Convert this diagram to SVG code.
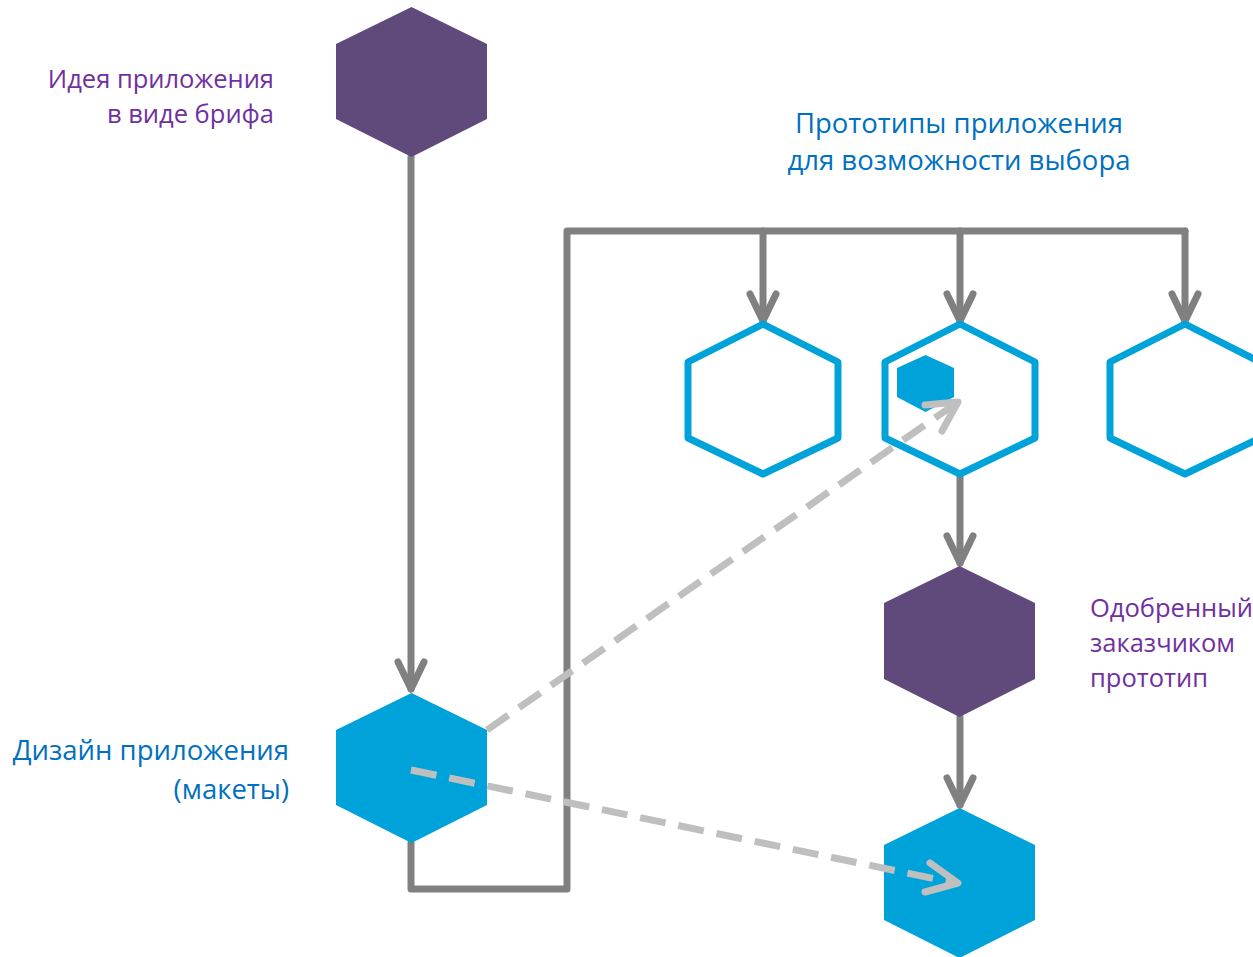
<svg xmlns="http://www.w3.org/2000/svg" width="1253" height="957" viewBox="0 0 1253 957">
<defs>
<style>
.purple{fill:#604a7b}
.blue{fill:#00a3d9}
.outline{fill:#fff;stroke:#00a3d9;stroke-width:7;stroke-linejoin:round}
.conn{fill:none;stroke:#808080;stroke-width:7;stroke-linecap:round;stroke-linejoin:round}
.dash{fill:none;stroke:#bfbfbf;stroke-width:7;stroke-dasharray:26 13}
.head{fill:none;stroke-linecap:round;stroke-linejoin:round;stroke-width:7}
.t{font-family:"Open Sans","Noto Sans",sans-serif}
.tp{fill:#7030a0;font-size:25.5px}
.tb{fill:#0070c0;font-size:27.5px}
</style>
</defs>
<g id="connectors">
<path class="conn" d="M411,157 V689"/>
<path class="conn" d="M398,662 L411,689 L424,662"/>
<path class="conn" d="M411,843 V889 H567 V231 H1185"/>
<path class="conn" d="M763,231 V321"/>
<path class="conn" d="M750,294 L763,321 L776,294"/>
<path class="conn" d="M960,231 V321"/>
<path class="conn" d="M947,294 L960,321 L973,294"/>
<path class="conn" d="M1185,231 V321"/>
<path class="conn" d="M1172,294 L1185,321 L1198,294"/>
<path class="conn" d="M960,476 V563"/>
<path class="conn" d="M947,536 L960,563 L973,536"/>
<path class="conn" d="M960,717 V805"/>
<path class="conn" d="M947,778 L960,805 L973,778"/>
</g>
<g id="n1"><polygon class="purple" points="411.5,7 487,44 487,119 411.5,157 336,119 336,44"/></g>
<g id="n2"><polygon class="blue" points="411.5,693 487,730 487,805 411.5,843 336,805 336,730"/></g>
<g id="p1"><polygon class="outline" points="763,324 838,362 838,438 763,474 688,438 688,362"/></g>
<g id="p2"><polygon class="outline" points="960,324 1035,362 1035,438 960,474 885,438 885,362"/>
<polygon class="blue" points="925.5,355 954,368 954,397 925.5,412 897,397 897,368"/></g>
<g id="p3"><polygon class="outline" points="1185,324 1260,362 1260,438 1185,474 1110,438 1110,362"/></g>
<g id="n3"><polygon class="purple" points="959.5,566 1035,603 1035,679 959.5,717 884,679 884,603"/></g>
<g id="n4"><polygon class="blue" points="959.5,808 1035,845 1035,920 959.5,958 884,920 884,845"/></g>
<g id="dashed">
<path class="dash" d="M487,730 L955,404"/>
<path class="head" stroke="#bfbfbf" d="M925,405 L958,402 L942,431"/>
<path class="dash" d="M411,770 L955,883"/>
<path class="head" stroke="#bfbfbf" d="M930,863 L958,883 L925,892"/>
</g>
<g id="labels">
<text class="t tp" text-anchor="end" x="274" y="88">Идея приложения</text>
<text class="t tp" text-anchor="end" x="274" y="123">в виде брифа</text>
<text class="t tb" text-anchor="middle" x="959" y="133">Прототипы приложения</text>
<text class="t tb" text-anchor="middle" x="959" y="170">для возможности выбора</text>
<text class="t tp" x="1090" y="617">Одобренный</text>
<text class="t tp" x="1090" y="652">заказчиком</text>
<text class="t tp" x="1090" y="687">прототип</text>
<text class="t tb" text-anchor="end" x="289" y="760">Дизайн приложения</text>
<text class="t tb" text-anchor="end" x="289" y="799">(макеты)</text>
</g>
</svg>
